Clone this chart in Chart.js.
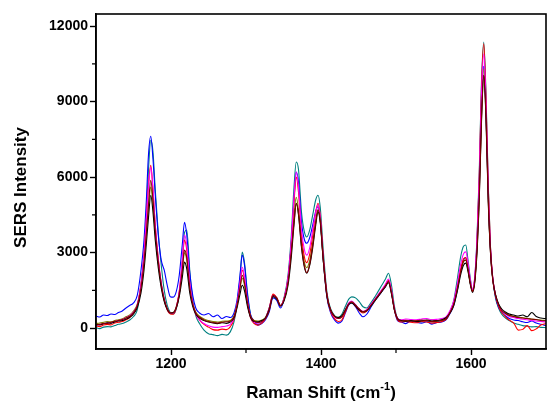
<!DOCTYPE html>
<html lang="en">
<head>
<meta charset="UTF-8">
<title>SERS spectra</title>
<script src="https://cdn.jsdelivr.net/npm/chart.js@4.4.0/dist/chart.umd.min.js"></script>
<style>
  html, body { margin: 0; padding: 0; background: #fff; }
  #wrap { width: 547px; height: 405px; }
</style>
</head>
<body>
<div id="wrap"><canvas id="spectra"></canvas></div>
<script>
// Raman shift grid (cm-1)
const shift = [
  1100,1105,1110,1115,1120,1125,1130,1135,1140,1145,1150,1155,
  1160,1164,1167,1170,1173,1176,1179,1183,1187,1191,1195,1199,
  1203,1207,1211,1215,1218,1221,1225,1229,1233,1238,1244,1250,
  1256,1262,1268,1274,1279,1284,1288,1292,1295,1298,1302,1306,
  1311,1316,1321,1326,1331,1336,1341,1346,1351,1356,1360,1364,
  1367,1370,1374,1378,1381,1385,1389,1393,1396,1399,1403,1408,
  1413,1418,1423,1428,1433,1437,1441,1446,1451,1456,1461,1466,
  1471,1476,1481,1486,1490,1494,1498,1502,1507,1513,1520,1527,
  1534,1541,1548,1555,1561,1567,1572,1577,1582,1586,1590,1593,
  1596,1599,1602,1605,1608,1611,1614,1617,1620,1623,1626,1629,
  1633,1637,1641,1646,1651,1657,1663,1669,1675,1681,1687,1693,1700
];

// SERS intensities, one array per spectrum
const black = [
  150,130,170,210,190,240,280,300,360,430,560,820,
  1400,2300,3300,4400,5280,4600,3500,2400,1600,1050,740,600,
  620,800,1250,2000,2620,2350,1400,850,560,400,300,240,
  200,180,210,190,240,400,800,1350,1700,1480,850,430,
  260,250,300,400,750,1250,1150,880,1100,1700,2700,4100,
  4960,4500,3200,2400,2180,2500,3200,4100,4620,4200,2700,1250,
  700,480,420,500,750,950,1000,880,720,640,690,850,
  1050,1250,1450,1650,1800,1350,700,380,300,270,300,260,
  290,320,280,300,330,420,600,900,1500,2100,2500,2580,
  2250,1750,1420,1800,3000,5100,8200,10040,8300,5000,3000,1950,
  1300,950,760,640,560,520,480,520,450,620,460,400,380
];
const maroon = [
  120,150,190,180,230,270,300,340,400,470,620,900,
  1600,2600,3700,4900,5875,5100,3900,2650,1750,1150,780,610,
  600,820,1350,2300,3100,2800,1600,950,600,430,320,260,
  220,200,230,250,280,450,900,1600,2100,1800,1000,480,
  280,220,260,380,700,1300,1200,900,1150,1800,2900,4200,
  4960,4550,3250,2450,2200,2550,3300,4200,4700,4300,2750,1300,
  720,470,380,450,720,960,1050,920,760,650,700,880,
  1080,1280,1480,1680,1850,1400,720,360,280,300,270,290,
  320,300,260,280,310,380,620,950,1600,2200,2650,2700,
  2350,1800,1450,1850,3100,5200,8300,10040,8400,5100,3000,1900,
  1250,900,700,580,500,460,420,400,380,350,340,300,290
];
const olive = [
  180,200,230,260,250,300,330,370,450,520,680,950,
  1700,2700,3800,4800,5600,4900,3800,2600,1700,1100,760,600,
  610,850,1400,2300,3000,2700,1600,980,640,470,360,300,
  260,240,270,280,300,480,950,1600,1980,1700,950,470,
  300,280,320,430,780,1280,1180,900,1200,1900,3000,4500,
  5200,4700,3400,2600,2400,2700,3400,4250,4700,4250,2700,1250,
  680,460,420,500,780,980,1020,900,760,660,720,900,
  1100,1300,1500,1700,1900,1450,730,390,310,320,290,300,
  280,310,330,290,320,400,650,1000,1650,2250,2650,2700,
  2300,1780,1480,1900,3200,5400,8500,10300,8600,5200,3050,1950,
  1300,920,720,600,520,470,430,410,390,360,330,320,300
];
const red = [
  80,60,120,150,130,200,230,260,330,420,580,880,
  1750,2900,4300,5700,6470,5500,4100,2750,1750,1100,720,560,
  550,800,1450,2600,3500,3100,1750,950,560,330,150,40,
  -60,-80,-40,-60,50,350,900,1750,2300,1950,1000,420,
  180,120,200,380,800,1350,1200,880,1200,1950,3200,5000,
  6000,5400,3700,2800,2600,2950,3700,4600,4960,4450,2850,1300,
  650,380,260,330,680,950,1030,870,700,600,680,880,
  1080,1280,1480,1700,1900,1450,720,330,240,260,230,210,
  260,240,200,220,260,360,620,970,1650,2300,2750,2800,
  2400,1850,1480,1950,3400,6000,9600,11310,9100,5600,3200,2000,
  1250,850,620,450,320,200,-80,-50,100,-100,-30,120,180
];
const magenta = [
  120,140,170,200,220,260,300,340,410,490,640,920,
  1750,2900,4300,5600,6400,5500,4100,2750,1800,1150,760,600,
  590,820,1450,2700,3700,3300,1800,980,560,330,180,90,
  40,30,60,80,150,400,950,1800,2420,2050,1050,450,
  230,200,260,400,780,1300,1180,900,1200,2000,3300,5200,
  6200,5600,3900,3100,2900,3200,3900,4600,4900,4400,2800,1280,
  690,450,380,470,760,1000,1080,930,760,660,730,920,
  1120,1320,1530,1750,1950,1500,750,400,330,360,340,330,
  360,380,330,350,380,460,700,1080,1800,2500,2950,3030,
  2600,1950,1550,2050,3500,5900,9300,10900,8900,5500,3150,2000,
  1280,900,700,560,460,420,380,350,330,300,280,260,240
];
const blue = [
  480,440,520,500,560,540,620,680,800,900,1000,1300,
  2300,3500,5000,6900,7620,6700,5300,3700,2700,2300,1700,1250,
  1230,1450,2100,3300,4200,3700,2200,1300,800,600,520,580,
  450,520,380,460,420,600,1100,2100,2900,2500,1300,550,
  280,120,180,330,650,1200,1100,800,1150,1900,3200,5100,
  6200,5800,4200,3500,3370,3600,4100,4650,4820,4300,2700,1200,
  600,330,200,280,640,920,1000,850,600,450,550,800,
  1050,1250,1450,1650,1850,1400,700,300,240,180,280,230,
  200,250,160,220,240,340,580,900,1550,2200,2700,2800,
  2400,1800,1500,1950,3300,5600,9000,10400,8600,5300,3100,1950,
  1200,820,640,480,380,320,300,250,220,280,200,150,100
];
const teal = [
  20,-20,40,60,50,100,150,180,240,320,460,720,
  1700,2900,4500,6300,7460,7000,5500,3800,2500,1500,900,620,
  560,760,1350,2500,3800,3900,2300,1100,500,180,-80,-220,
  -260,-300,-250,-280,-150,250,900,2000,3020,2600,1400,550,
  200,150,230,400,800,1300,1200,880,1250,2100,3500,5600,
  6600,6300,4600,3800,3620,3900,4500,5100,5280,4800,3100,1400,
  760,500,430,560,900,1150,1240,1200,1050,850,800,980,
  1200,1450,1700,1950,2180,1700,850,380,300,280,320,260,
  250,280,240,260,290,350,650,1100,2000,2800,3250,3300,
  2700,2000,1500,2000,3600,6200,9800,11370,9300,5700,3200,1950,
  1150,780,550,400,300,200,150,100,80,50,60,30,20
];

const spectra = [
  { name: 'maroon', color: '#800000', y: maroon },
  { name: 'black', color: '#000000', y: black },
  { name: 'magenta', color: '#ff00ff', y: magenta },
  { name: 'red', color: '#ff0000', y: red },
  { name: 'olive', color: '#808000', y: olive },
  { name: 'blue', color: '#0000ff', y: blue },
  { name: 'teal', color: '#008080', y: teal }
];

const xMajor = [1200, 1400, 1600];
const xMinor = [1300, 1500];
const yMajor = [0, 3000, 6000, 9000, 12000];
const yMinor = [1500, 4500, 7500, 10500];

const FONT = '"Liberation Sans", Arial, sans-serif';

// box frame, minor ticks and axis titles
const framePlugin = {
  id: 'frame',
  afterDraw(chart) {
    const { ctx, chartArea: a, scales } = chart;
    ctx.save();
    ctx.strokeStyle = '#000';
    ctx.lineWidth = 1.6;
    ctx.strokeRect(a.left, a.top, a.right - a.left, a.bottom - a.top);

    ctx.lineWidth = 1.2;
    ctx.beginPath();
    xMinor.forEach(v => {
      const px = scales.x.getPixelForValue(v);
      ctx.moveTo(px, a.bottom);
      ctx.lineTo(px, a.bottom + 4);
    });
    yMinor.forEach(v => {
      const py = scales.y.getPixelForValue(v);
      ctx.moveTo(a.left, py);
      ctx.lineTo(a.left - 4, py);
    });
    ctx.stroke();

    ctx.fillStyle = '#000';
    // x title with superscript
    const big = 'bold 17px ' + FONT, small = 'bold 11px ' + FONT;
    ctx.textBaseline = 'alphabetic';
    const p1 = 'Raman Shift (cm', sup = '-1', p2 = ')';
    ctx.font = big;
    const w1 = ctx.measureText(p1).width;
    const w3 = ctx.measureText(p2).width;
    ctx.font = small;
    const w2 = ctx.measureText(sup).width;
    const cx = (a.left + a.right) / 2;
    const x0 = cx - (w1 + w2 + w3) / 2;
    const base = 398;
    ctx.textAlign = 'left';
    ctx.font = big;
    ctx.fillText(p1, x0, base);
    ctx.font = small;
    ctx.fillText(sup, x0 + w1, base - 8);
    ctx.font = big;
    ctx.fillText(p2, x0 + w1 + w2, base);

    // y title
    ctx.translate(21, (a.top + a.bottom) / 2 + 6);
    ctx.rotate(-Math.PI / 2);
    ctx.textAlign = 'center';
    ctx.textBaseline = 'middle';
    ctx.font = 'bold 17px ' + FONT;
    ctx.fillText('SERS Intensity', 0, 0);
    ctx.restore();
  }
};

new Chart(document.getElementById('spectra'), {
  type: 'line',
  data: {
    datasets: spectra.map(s => ({
      label: s.name,
      data: shift.map((x, i) => ({ x: x, y: s.y[i] })),
      borderColor: s.color,
      borderWidth: 1.1,
      pointRadius: 0,
      fill: false,
      cubicInterpolationMode: 'monotone'
    }))
  },
  options: {
    responsive: true,
    maintainAspectRatio: false,
    animation: false,
    layout: { padding: { top: 14, right: 1, left: 0, bottom: 0 } },
    plugins: { legend: { display: false }, tooltip: { enabled: false } },
    scales: {
      x: {
        type: 'linear',
        min: 1100,
        max: 1700,
        afterBuildTicks: s => { s.ticks = xMajor.map(v => ({ value: v })); },
        afterFit: s => { s.height = 56; },
        grid: { drawOnChartArea: false, tickLength: 6, tickWidth: 1.4, tickColor: '#000' },
        border: { display: true, color: '#000', width: 1.6 },
        ticks: {
          color: '#000', font: { family: FONT, size: 14, weight: 'bold' },
          padding: 1, maxRotation: 0, callback: v => String(v)
        }
      },
      y: {
        min: -830,
        max: 12480,
        afterBuildTicks: s => { s.ticks = yMajor.map(v => ({ value: v })); },
        afterFit: s => { s.width = 96; },
        grid: { drawOnChartArea: false, tickLength: 6, tickWidth: 1.4, tickColor: '#000' },
        border: { display: true, color: '#000', width: 1.6 },
        ticks: {
          color: '#000', font: { family: FONT, size: 14, weight: 'bold' },
          padding: 2, callback: v => String(v)
        }
      }
    }
  },
  plugins: [framePlugin]
});
</script>
</body>
</html>
